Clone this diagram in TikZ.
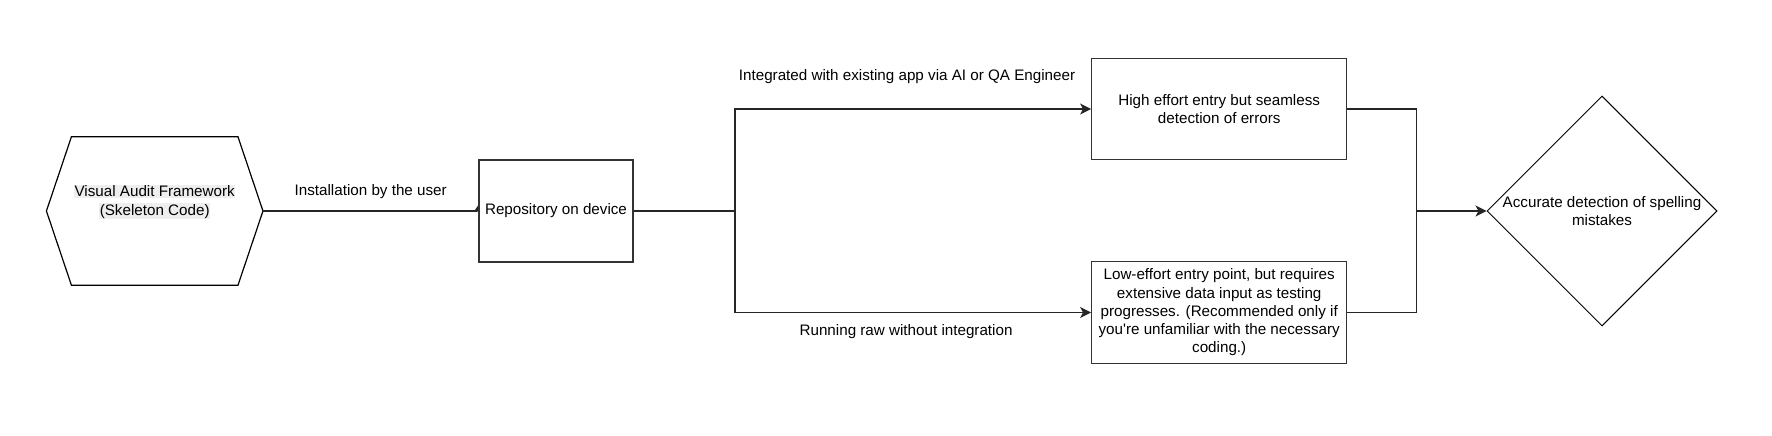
\documentclass[tikz,border=0pt]{standalone}
\usepackage{fontspec}
\setmainfont{Liberation Sans}[Ligatures=TeXOff]
\usepackage{xcolor}
\usepackage{tikz}
\usetikzlibrary{shapes.geometric,arrows.meta,positioning}
\def\px{0.75pt}
\definecolor{hlgray}{HTML}{EEEEEE}
\definecolor{edgegray}{HTML}{333333}
\setlength{\fboxsep}{0.5pt}
\tikzstyle{block} = [rectangle, draw=edgegray, line width=0.9pt, align=center, inner sep=0pt]
\tikzstyle{decision} = [diamond, draw=black, line width=\px, inner sep=0pt, minimum width=230*\px, minimum height=230*\px]
\tikzstyle{line} = [draw=black!85, line width=0.9pt]
\tikzstyle{arrow} = [line, -{Stealth[length=8.25pt,width=8.25pt,inset=2.2pt]}]

\begin{document}
\begin{tikzpicture}[x=\px, y=-\px,
        font=\fontsize{11.4pt}{13.7pt}\selectfont,
        every node/.style={align=center}]
        \useasboundingbox (0,0) rectangle (1772,435);
        % start: hexagon frame
        \node[minimum width=216*\px, minimum height=148*\px, inner sep=0pt] (frame) at (154.7,211) {};
        \draw[line, draw=black] (frame.west) -- ([xshift=25*\px]frame.north west) -- ([xshift=-25*\px]frame.north east)
          -- (frame.east) -- ([xshift=-25*\px]frame.south east) -- ([xshift=25*\px]frame.south west) -- cycle;
        \node (frametext) at (154.7,202) {\colorbox{hlgray}{Visual Audit Framework}\\\colorbox{hlgray}{(Skeleton Code)}};
        \node[block, minimum width=154*\px, minimum height=102*\px] (repo) at (556,211) {Repository on device};
        \node[block, minimum width=255*\px, minimum height=101*\px] (high) at (1219.2,109) {High effort entry but seamless\\detection of errors};
        \node[block, minimum width=255*\px, minimum height=102*\px] (low) at (1219.2,312.5)
          {Low-effort entry point, but requires\\extensive data input as testing\\progresses. (Recommended only if\\you're unfamiliar with the necessary\\coding.)};
        \node[decision, label={[align=center]center:{Accurate detection of spelling\\mistakes}}] (goal) at (1602,211) {};
        \coordinate (split) at (735,211);
        \coordinate (join) at (1416.7,211);
        % edges
        \draw[line, -{Triangle[reversed,left,length=3pt,width=9pt]}] (frame.east) -- node[midway, yshift=19*\px] {Installation by the user} (repo.west);
        \draw[line] (repo.east) -- (split);
        \draw[arrow] (split) |- node[pos=.75, yshift=32*\px, xshift=-6*\px] {Integrated with existing app via AI or QA Engineer} (high.west);
        \draw[arrow] (split) |- node[pos=.75, yshift=-19*\px, xshift=-7*\px] {Running raw without integration} (low.west);
        \draw[line] (high.east) -| (join);
        \draw[line] (low.east) -| (join);
        \draw[arrow] (join) -- (goal.west);
      \end{tikzpicture}
\end{document}
